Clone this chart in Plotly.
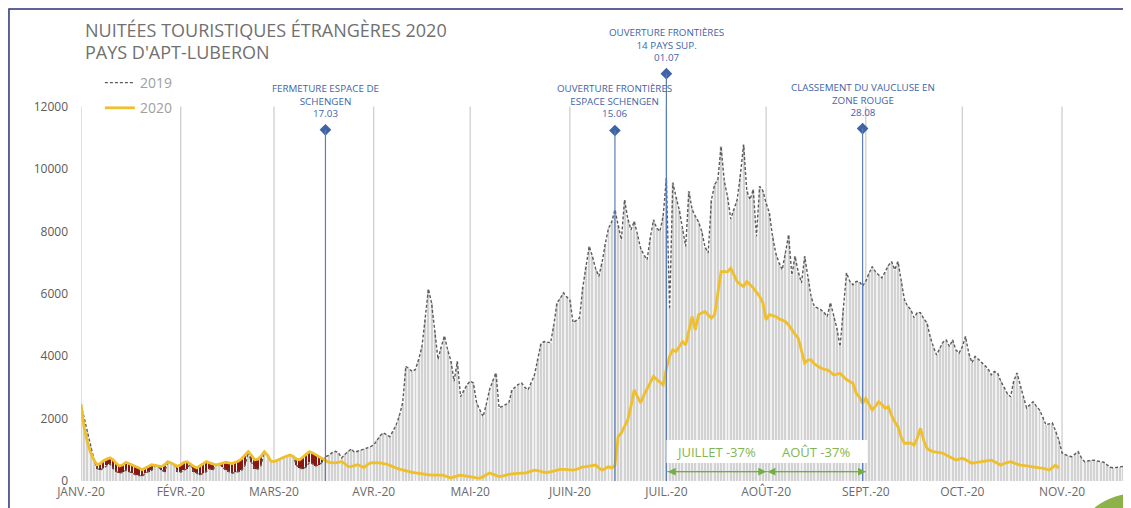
import pandas as pd
import plotly.graph_objects as go

# Nuitées journalières, une ligne par mois
nuitees_2019 = (
    [2450, 2000, 1600, 1100, 700, 400, 350, 420, 500, 550, 400, 300, 250, 280, 350, 300, 250, 200, 180, 150,
     250, 300, 350, 480, 470, 350, 300, 600, 590, 530, 300]  # janv.
    + [280, 350, 400, 550, 300, 250, 200, 250, 300, 400, 350, 520, 550, 450, 350, 300, 250, 280, 300, 350,
       500, 930, 600, 400, 380, 500, 950, 830, 650]  # févr.
    + [630, 670, 730, 770, 810, 840, 790, 500, 420, 380, 450, 600, 550, 480, 520, 600, 780, 820, 900, 950,
       910, 740, 850, 950, 1030, 920, 950, 1000, 1030, 1060, 1100]  # mars
    + [1150, 1300, 1450, 1540, 1480, 1420, 1600, 1800, 2100, 2500, 3670, 3600, 3500, 3580, 3900, 4300, 5200,
       6150, 5700, 4800, 3900, 4300, 4650, 4200, 3850, 3200, 3830, 2700, 2900, 3080]  # avr.
    + [3200, 3140, 2500, 2250, 2060, 2450, 2920, 3200, 3460, 2340, 2400, 2450, 2500, 2920, 3000, 3100, 3140,
       3000, 2920, 3150, 3400, 3900, 4400, 4470, 4450, 4430, 5000, 5710, 5850, 6030, 5900]  # mai
    + [5800, 5070, 5150, 5230, 6200, 6900, 7520, 7200, 6800, 6560, 7000, 7600, 8100, 8300, 8690, 8200, 7730,
       9010, 8400, 8050, 8320, 7900, 7450, 7250, 7090, 7800, 8370, 8100, 8000, 8500]  # juin
    + [9700, 5500, 9560, 9100, 8690, 8100, 7520, 9280, 8700, 8480, 8300, 8000, 7500, 7310, 9000, 9500, 9660,
       10720, 9600, 9120, 8400, 8700, 9010, 9800, 10780, 9300, 9010, 9340, 7840, 9440, 9300]  # juil.
    + [8900, 8600, 7840, 7300, 7000, 6770, 7300, 7890, 6600, 7200, 6700, 6350, 7200, 6500, 5900, 5590, 5550,
       5490, 5400, 5270, 5710, 5300, 4900, 4310, 5500, 6670, 6400, 6290, 6390, 6390, 6250]  # août
    + [6400, 6650, 6870, 6700, 6600, 6510, 6700, 6900, 7030, 6770, 7030, 6400, 5810, 5600, 5490, 5230, 5400,
       5390, 5200, 5070, 4630, 4300, 4040, 4250, 4450, 4520, 4310, 4520, 4200, 4100]  # sept.
    + [4300, 4630, 4100, 3790, 3990, 3900, 3800, 3720, 3600, 3400, 3510, 3450, 3190, 3000, 2800, 2700, 3200,
       3460, 3030, 2700, 2340, 2450, 2540, 2400, 2280, 2050, 1800, 1830, 1860, 1600, 1320]  # oct.
    + [900, 850, 800, 780, 850, 940, 750, 620, 640, 660, 670, 640, 620, 600, 520, 440, 420, 440, 460, 470,
       480, 500]  # nov.
)

nuitees_2020 = (
    [2450, 1700, 1250, 900, 680, 520, 560, 650, 700, 740, 680, 560, 480, 520, 600, 560, 520, 470, 420, 360,
     420, 480, 520, 500, 470, 460, 520, 620, 580, 520, 470]  # janv.
    + [520, 600, 620, 540, 470, 420, 480, 560, 620, 580, 540, 510, 540, 580, 600, 580, 560, 600, 640, 720,
       820, 940, 820, 680, 700, 800, 940, 820, 640]  # févr.
    + [620, 660, 720, 760, 800, 830, 780, 700, 680, 760, 860, 940, 900, 840, 780, 700, 640, 600, 590, 580,
       600, 620, 560, 470, 460, 500, 520, 480, 430, 520, 580]  # mars
    + [590, 590, 580, 560, 545, 500, 450, 415, 380, 350, 320, 300, 280, 260, 240, 225, 210, 200, 190, 195,
       200, 190, 170, 130, 95, 130, 170, 190, 170, 150]  # avr.
    + [140, 120, 100, 95, 130, 200, 255, 220, 170, 140, 160, 190, 210, 225, 240, 250, 255, 255, 280, 320,
       350, 330, 300, 280, 270, 300, 330, 350, 370, 375, 360]  # mai
    + [350, 350, 370, 420, 450, 460, 480, 500, 510, 420, 350, 400, 460, 415, 500, 1420, 1540, 1750, 1960,
       2400, 2920, 2700, 2500, 2750, 2950, 3150, 3350, 3250, 3150, 3080]  # juin
    + [3600, 4000, 4200, 4150, 4300, 4470, 4360, 4800, 5270, 4840, 5330, 5380, 5430, 5320, 5220, 5330, 6000,
       6710, 6710, 6700, 6820, 6600, 6390, 6300, 6230, 6390, 6300, 6190, 6050, 5910, 5710]  # juil.
    + [5170, 5330, 5300, 5270, 5200, 5150, 5110, 5000, 4840, 4700, 4580, 4200, 3780, 3880, 3880, 3750, 3670,
       3620, 3580, 3560, 3500, 3400, 3420, 3450, 3350, 3250, 3190, 3130, 2810, 2700, 2490]  # août
    + [2650, 2450, 2280, 2400, 2540, 2450, 2330, 2380, 2100, 1900, 1740, 1400, 1210, 1210, 1220, 1150, 1370,
       1690, 1300, 1050, 980, 940, 920, 900, 890, 830, 780, 720, 670, 700]  # sept.
    + [730, 680, 620, 570, 590, 610, 620, 640, 660, 670, 620, 560, 510, 560, 600, 620, 580, 540, 510, 500,
       480, 470, 460, 440, 420, 410, 380, 350, 430, 510, 410]  # oct.
)

mois_debut = ['2020-01-01', '2020-02-01', '2020-03-01', '2020-04-01', '2020-05-01', '2020-06-01',
              '2020-07-01', '2020-08-01', '2020-09-01', '2020-10-01', '2020-11-01']
mois_labels = ['JANV.-20', 'FÉVR.-20', 'MARS-20', 'AVR.-20', 'MAI-20', 'JUIN-20',
               'JUIL.-20', 'AOÛT-20', 'SEPT.-20', 'OCT.-20', 'NOV.-20']
y_ticks = [0, 2000, 4000, 6000, 8000, 10000, 12000]

# Evénements (date, hauteur du repère, libellé)
evt_dates = ['2020-03-17', '2020-06-15', '2020-07-01', '2020-08-31']
evt_hauteurs = [11250, 11230, 13050, 11290]
evt_labels = ['FERMETURE ESPACE DE<br>SCHENGEN<br>17.03',
              'OUVERTURE FRONTIÈRES<br>ESPACE SCHENGEN<br>15.06',
              'OUVERTURE FRONTIÈRES<br>14 PAYS SUP.<br>01.07',
              'CLASSEMENT DU VAUCLUSE EN<br>ZONE ROUGE<br>28.08']

# Evolution mensuelle vs 2019
periodes_debut = ['2020-07-01', '2020-08-01']
periodes_fin = ['2020-08-01', '2020-09-01']
periodes_labels = ['JUILLET -37%', 'AOÛT -37%']

JOUR_MS = 86400000
GRIS = '#707070'
BLEU = '#3f64a6'
VERT = '#72ad45'

dates_2019 = pd.date_range('2020-01-01', periods=len(nuitees_2019), freq='D')
dates_2020 = pd.date_range('2020-01-01', periods=len(nuitees_2020), freq='D')

# Ecarts 2019/2020 affichés en barres rouges avant la fermeture
ecart_x, ecart_base, ecart_h = [], [], []
for i in range(77):
    if nuitees_2020[i] > nuitees_2019[i]:
        ecart_x.append(dates_2020[i])
        ecart_base.append(nuitees_2019[i])
        ecart_h.append(nuitees_2020[i] - nuitees_2019[i])

fig = go.Figure()

# Barres 2019 (fond + traits verticaux)
fig.add_trace(go.Bar(x=dates_2019, y=nuitees_2019, width=JOUR_MS, marker_color='#f1f1f1',
                     marker_line_width=0, showlegend=False, hoverinfo='skip'))
fig.add_trace(go.Bar(x=dates_2019, y=nuitees_2019, width=JOUR_MS * 0.3, marker_color='#d2d2d2',
                     marker_line_width=0, showlegend=False, hoverinfo='skip'))
fig.add_trace(go.Bar(x=ecart_x, y=ecart_h, base=ecart_base, width=JOUR_MS * 0.6, marker_color='#8a1712',
                     marker_line_width=0, showlegend=False, hoverinfo='skip'))

fig.add_trace(go.Scatter(x=dates_2019, y=nuitees_2019, mode='lines', name='2019', legendgroup='a',
                         line=dict(color='#5c5c5c', width=1.4, dash='3px,2px')))
fig.add_trace(go.Scatter(x=dates_2020, y=nuitees_2020, mode='lines', name='2020', legendgroup='b',
                         line=dict(color='#efbf2c', width=2.8)))

# Repères des événements
fig.add_trace(go.Scatter(x=evt_dates, y=evt_hauteurs, mode='markers', cliponaxis=False,
                         marker=dict(symbol='diamond', size=9, color=BLEU),
                         showlegend=False, hoverinfo='skip'))

shapes = []
for m in mois_debut:
    shapes.append(dict(type='line', xref='x', yref='y', x0=m, x1=m, y0=0, y1=12000,
                       line=dict(color='#cbcbcb', width=1.2), layer='below'))
for d, h in zip(evt_dates, evt_hauteurs):
    shapes.append(dict(type='line', xref='x', yref='y', x0=d, x1=d, y0=0, y1=h,
                       line=dict(color='#5a7cb8', width=1.2)))
# Cartouche blanc des évolutions mensuelles
shapes.append(dict(type='rect', xref='x', yref='y', x0='2020-07-01', x1='2020-09-01 12:00',
                   y0=580, y1=1315, fillcolor='white', line_width=0))
for a, b in zip(periodes_debut, periodes_fin):
    shapes.append(dict(type='line', xref='x', yref='y', x0=a, x1=b, y0=300, y1=300,
                       line=dict(color=VERT, width=1)))
# Cadre et pastille
shapes.append(dict(type='rect', xref='paper', yref='paper', x0=-0.0686, x1=1.02, y0=-0.09, y1=1.0239,
                   line=dict(color='#26337c', width=1.5), fillcolor='rgba(0,0,0,0)'))
shapes.append(dict(type='circle', xref='paper', yref='paper', x0=0.954, x1=1.072, y0=-0.189, y1=-0.024,
                   fillcolor='#8cb34a', line_width=0))

annotations = [
    dict(text='NUITÉES TOURISTIQUES ÉTRANGÈRES 2020', xref='paper', yref='paper', x=0.002, y=0.978,
         xanchor='left', yanchor='middle', showarrow=False,
         font=dict(family='Open Sans', size=18, color=GRIS)),
    dict(text="PAYS D'APT-LUBERON", xref='paper', yref='paper', x=0.002, y=0.93,
         xanchor='left', yanchor='middle', showarrow=False,
         font=dict(family='Open Sans', size=18, color=GRIS)),
]
for d, h, t in zip(evt_dates, evt_hauteurs, evt_labels):
    annotations.append(dict(text=t, x=d, y=h, xref='x', yref='y', yanchor='bottom', yshift=8,
                            showarrow=False, align='center',
                            font=dict(family='Open Sans', size=9.8, color=BLEU)))
for a, b, t in zip(periodes_debut, periodes_fin, periodes_labels):
    mid = pd.Timestamp(a) + (pd.Timestamp(b) - pd.Timestamp(a)) / 2
    annotations.append(dict(text=t, x=mid, y=945, xref='x', yref='y', showarrow=False,
                            font=dict(family='Open Sans', size=13, color='#83b54f')))
    annotations.append(dict(text='', x=b, y=300, ax=a, ay=300, xref='x', yref='y', axref='x', ayref='y',
                            showarrow=True, arrowhead=2, arrowside='end+start', arrowsize=1.3,
                            arrowwidth=1.2, arrowcolor=VERT))

# La page ajoute 8 px de marge au corps : la figure est réduite d'autant
fig.update_layout(
    width=1123, height=500,
    margin=dict(l=73, r=0, t=12, b=27, autoexpand=False),
    paper_bgcolor='white', plot_bgcolor='white',
    barmode='overlay', bargap=0,
    font=dict(family='Open Sans', color=GRIS),
    xaxis=dict(type='date', range=['2020-01-01', '2020-11-22 10:48'], showgrid=False, zeroline=False,
               showline=False, tickvals=mois_debut, ticktext=mois_labels, automargin=False,
               ticklabelstandoff=2,
               tickfont=dict(family='Open Sans', size=12, color='#6a6a6a')),
    yaxis=dict(range=[0, 14770], showgrid=False, zeroline=False, showline=False, automargin=False,
               tickvals=y_ticks, ticktext=[str(v) for v in y_ticks], ticklabelstandoff=12,
               tickfont=dict(family='Open Sans', size=12, color='#5a5a5a')),
    legend=dict(x=0.018, y=0.898, xanchor='left', yanchor='top', bgcolor='rgba(0,0,0,0)',
                tracegroupgap=4, font=dict(family='Open Sans', size=14, color='#a0a0a0')),
    shapes=shapes,
    annotations=annotations,
    showlegend=True,
)

fig.write_html("out.html")
